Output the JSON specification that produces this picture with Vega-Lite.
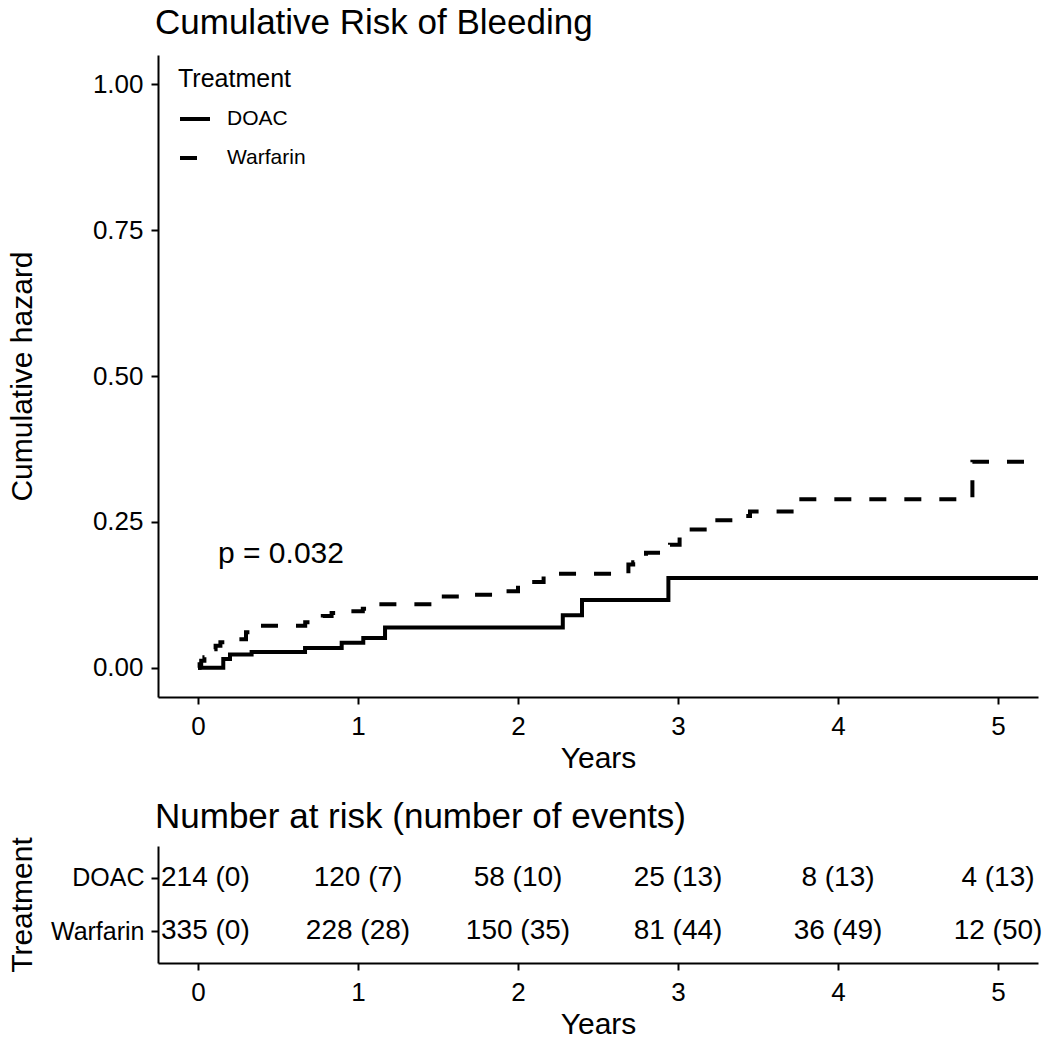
{
  "$schema": "https://vega.github.io/schema/vega-lite/v6.json",
  "padding": {"left": 7, "top": 6, "right": 1, "bottom": 2},
  "spacing": 26,
  "config": {
    "font": "Liberation Sans",
    "view": {"stroke": null},
    "axis": {
      "grid": false,
      "domainColor": "black",
      "domainWidth": 2,
      "tickColor": "black",
      "tickWidth": 2,
      "tickSize": 7,
      "labelColor": "black",
      "labelFontSize": 26,
      "titleColor": "black",
      "titleFontSize": 30,
      "titleFontWeight": "normal"
    },
    "title": {"fontSize": 35, "fontWeight": "normal", "color": "black", "anchor": "start", "frame": "group"}
  },
  "datasets": {
    "curves": [
      {"time": 0, "hazard": 0, "treatment": "DOAC"},
      {"time": 0.158, "hazard": 0.015, "treatment": "DOAC"},
      {"time": 0.2, "hazard": 0.023, "treatment": "DOAC"},
      {"time": 0.335, "hazard": 0.027, "treatment": "DOAC"},
      {"time": 0.669, "hazard": 0.034, "treatment": "DOAC"},
      {"time": 0.898, "hazard": 0.043, "treatment": "DOAC"},
      {"time": 1.033, "hazard": 0.051, "treatment": "DOAC"},
      {"time": 1.169, "hazard": 0.069, "treatment": "DOAC"},
      {"time": 2.28, "hazard": 0.09, "treatment": "DOAC"},
      {"time": 2.4, "hazard": 0.116, "treatment": "DOAC"},
      {"time": 2.94, "hazard": 0.154, "treatment": "DOAC"},
      {"time": 5.25, "hazard": 0.154, "treatment": "DOAC"},
      {"time": 0, "hazard": 0, "treatment": "Warfarin"},
      {"time": 0.01, "hazard": 0.006, "treatment": "Warfarin"},
      {"time": 0.02, "hazard": 0.012, "treatment": "Warfarin"},
      {"time": 0.04, "hazard": 0.018, "treatment": "Warfarin"},
      {"time": 0.06, "hazard": 0.024, "treatment": "Warfarin"},
      {"time": 0.09, "hazard": 0.032, "treatment": "Warfarin"},
      {"time": 0.11, "hazard": 0.038, "treatment": "Warfarin"},
      {"time": 0.14, "hazard": 0.044, "treatment": "Warfarin"},
      {"time": 0.22, "hazard": 0.049, "treatment": "Warfarin"},
      {"time": 0.3, "hazard": 0.061, "treatment": "Warfarin"},
      {"time": 0.36, "hazard": 0.072, "treatment": "Warfarin"},
      {"time": 0.67, "hazard": 0.078, "treatment": "Warfarin"},
      {"time": 0.78, "hazard": 0.089, "treatment": "Warfarin"},
      {"time": 0.835, "hazard": 0.094, "treatment": "Warfarin"},
      {"time": 0.95, "hazard": 0.097, "treatment": "Warfarin"},
      {"time": 1.03, "hazard": 0.101, "treatment": "Warfarin"},
      {"time": 1.1, "hazard": 0.109, "treatment": "Warfarin"},
      {"time": 1.49, "hazard": 0.122, "treatment": "Warfarin"},
      {"time": 1.69, "hazard": 0.125, "treatment": "Warfarin"},
      {"time": 1.89, "hazard": 0.131, "treatment": "Warfarin"},
      {"time": 2.0, "hazard": 0.147, "treatment": "Warfarin"},
      {"time": 2.16, "hazard": 0.161, "treatment": "Warfarin"},
      {"time": 2.69, "hazard": 0.177, "treatment": "Warfarin"},
      {"time": 2.72, "hazard": 0.181, "treatment": "Warfarin"},
      {"time": 2.8, "hazard": 0.197, "treatment": "Warfarin"},
      {"time": 2.95, "hazard": 0.211, "treatment": "Warfarin"},
      {"time": 3.01, "hazard": 0.225, "treatment": "Warfarin"},
      {"time": 3.07, "hazard": 0.237, "treatment": "Warfarin"},
      {"time": 3.21, "hazard": 0.253, "treatment": "Warfarin"},
      {"time": 3.4, "hazard": 0.26, "treatment": "Warfarin"},
      {"time": 3.45, "hazard": 0.268, "treatment": "Warfarin"},
      {"time": 3.75, "hazard": 0.289, "treatment": "Warfarin"},
      {"time": 4.84, "hazard": 0.353, "treatment": "Warfarin"},
      {"time": 5.25, "hazard": 0.353, "treatment": "Warfarin"}
    ],
    "pval": [
      {"time": 0.125, "hazard": 0.195, "label": "p = 0.032"}
    ],
    "risk": [
      {"time": 0, "treatment": "DOAC", "at_risk": 214, "events": 0, "label": "214 (0)"},
      {"time": 1, "treatment": "DOAC", "at_risk": 120, "events": 7, "label": "120 (7)"},
      {"time": 2, "treatment": "DOAC", "at_risk": 58, "events": 10, "label": "58 (10)"},
      {"time": 3, "treatment": "DOAC", "at_risk": 25, "events": 13, "label": "25 (13)"},
      {"time": 4, "treatment": "DOAC", "at_risk": 8, "events": 13, "label": "8 (13)"},
      {"time": 5, "treatment": "DOAC", "at_risk": 4, "events": 13, "label": "4 (13)"},
      {"time": 0, "treatment": "Warfarin", "at_risk": 335, "events": 0, "label": "335 (0)"},
      {"time": 1, "treatment": "Warfarin", "at_risk": 228, "events": 28, "label": "228 (28)"},
      {"time": 2, "treatment": "Warfarin", "at_risk": 150, "events": 35, "label": "150 (35)"},
      {"time": 3, "treatment": "Warfarin", "at_risk": 81, "events": 44, "label": "81 (44)"},
      {"time": 4, "treatment": "Warfarin", "at_risk": 36, "events": 49, "label": "36 (49)"},
      {"time": 5, "treatment": "Warfarin", "at_risk": 12, "events": 50, "label": "12 (50)"}
    ]
  },
  "vconcat": [
    {
      "width": 880,
      "height": 642,
      "title": {"text": "Cumulative Risk of Bleeding", "baseline": "alphabetic", "offset": -14, "dx": -3},
      "layer": [
        {
          "data": {"name": "curves"},
          "mark": {"type": "line", "interpolate": "step-after", "color": "black", "strokeWidth": 4, "clip": true},
          "encoding": {
            "x": {"field": "time", "type": "quantitative", "scale": {"domain": [-0.25, 5.25], "nice": false, "zero": false},
                  "axis": {"title": "Years", "values": [0, 1, 2, 3, 4, 5], "format": "d", "labelPadding": 9, "titlePadding": 4}},
            "y": {"field": "hazard", "type": "quantitative", "scale": {"domain": [-0.05, 1.05], "nice": false, "zero": false},
                  "axis": {"title": "Cumulative hazard", "values": [0, 0.25, 0.5, 0.75, 1], "format": ".2f", "labelPadding": 8, "titlePadding": 55}},
            "strokeDash": {"field": "treatment", "type": "nominal",
                           "scale": {"domain": ["DOAC", "Warfarin"], "range": [[1, 0], [17, 18]]},
                           "legend": {"title": "Treatment", "orient": "none", "legendX": 20, "legendY": 12,
                                      "titleFontSize": 25, "titleFontWeight": "normal", "titleColor": "black", "titlePadding": 10,
                                      "labelFontSize": 21, "labelColor": "black", "labelOffset": 15,
                                      "symbolType": "stroke", "symbolSize": 900, "symbolStrokeWidth": 4,
                                      "symbolStrokeColor": "black", "rowPadding": 12}}
          }
        },
        {
          "data": {"name": "pval"},
          "mark": {"type": "text", "align": "left", "baseline": "middle", "fontSize": 30, "color": "black"},
          "encoding": {
            "x": {"field": "time", "type": "quantitative"},
            "y": {"field": "hazard", "type": "quantitative"},
            "text": {"field": "label"}
          }
        }
      ]
    },
    {
      "width": 880,
      "height": 117,
      "title": {"text": "Number at risk (number of events)", "baseline": "alphabetic", "offset": -26, "dx": -3},
      "data": {"name": "risk"},
      "encoding": {
        "x": {"field": "time", "type": "quantitative", "scale": {"domain": [-0.25, 5.25], "nice": false, "zero": false},
              "axis": {"title": "Years", "values": [0, 1, 2, 3, 4, 5], "format": "d", "labelPadding": 9, "titlePadding": 4}},
        "y": {"field": "treatment", "type": "nominal", "scale": {"type": "point", "padding": 0.6, "domain": ["DOAC", "Warfarin"]},
              "axis": {"title": "Treatment", "labelFontSize": 25, "labelPadding": 7, "titlePadding": 13}},
        "text": {"field": "label"}
      },
      "layer": [
        {
          "transform": [{"filter": "datum.time > 0"}],
          "mark": {"type": "text", "align": "center", "baseline": "middle", "fontSize": 28, "color": "black"}
        },
        {
          "transform": [{"filter": "datum.time == 0"}],
          "mark": {"type": "text", "align": "left", "baseline": "middle", "fontSize": 28, "color": "black", "dx": -37}
        }
      ]
    }
  ]
}
